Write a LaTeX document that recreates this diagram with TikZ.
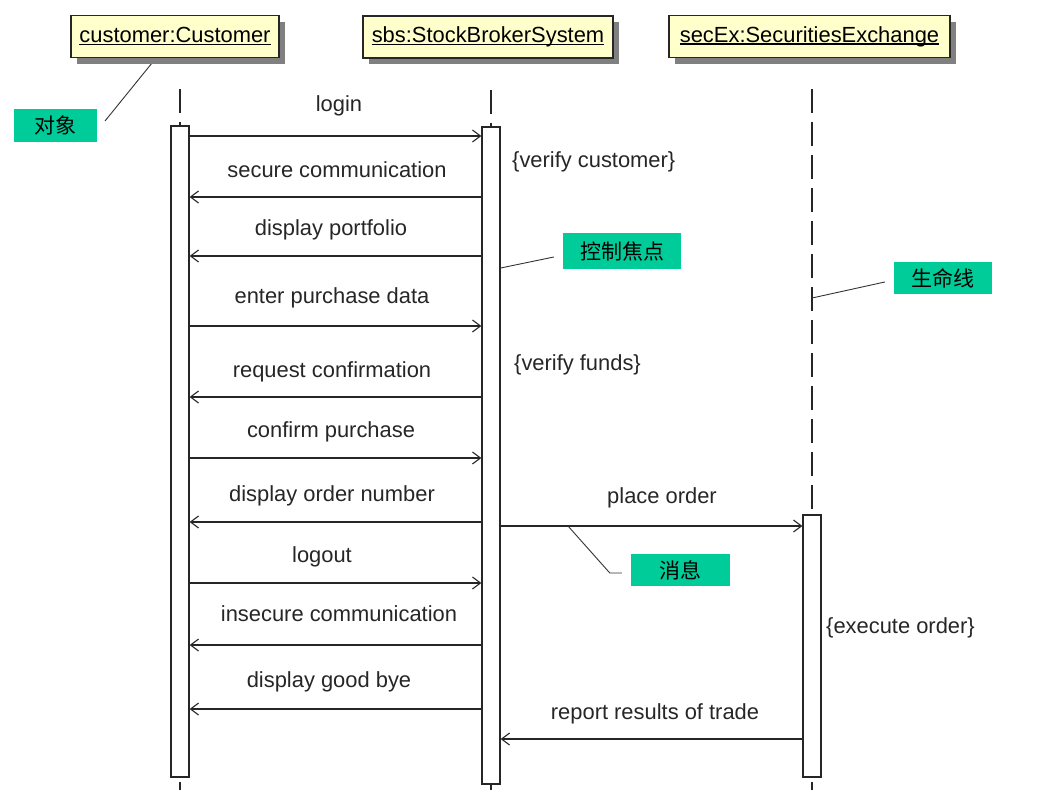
\documentclass[tikz,border=0pt]{standalone}
\usepackage{fontspec}
\setmainfont{Liberation Sans}
\newfontfamily\cjk{Noto Sans CJK SC}
\usetikzlibrary{arrows.meta,shadows}
\definecolor{objyellow}{RGB}{255,255,204}
\definecolor{notegreen}{RGB}{0,204,153}
% underline at a fixed depth, crossing descenders
\newcommand\uln[1]{\setbox0\hbox{#1}\rlap{\rule[-2.5pt]{\wd0}{1.3pt}}\box0}

\begin{document}
\begin{tikzpicture}[x=1pt, y=-1pt,
  obj/.style={draw=black!85, line width=1.4pt, fill=objyellow, minimum height=42pt, inner sep=0pt,
    drop shadow={shadow xshift=6pt, shadow yshift=-6pt, fill=black!50, opacity=1},
    font=\fontsize{21.9}{26}\selectfont},
  life/.style={line width=1.3pt, black!85, dash pattern=on 24pt off 9pt},
  act/.style={draw=black!85, line width=1.3pt, fill=white, minimum width=18pt, inner sep=0pt},
  msg/.style={line width=1.1pt, black!85, -{Straight Barb[length=8pt,width=12pt,line width=1.1pt]}},
  lbl/.style={font=\fontsize{21.9}{26}\selectfont, text=black!85, anchor=base, inner sep=0pt},
  cons/.style={lbl, anchor=base west},
  note/.style={fill=notegreen, inner sep=0pt, font=\cjk\fontsize{21}{24}\selectfont},
  pointer/.style={line width=0.9pt, black!80}
]

\useasboundingbox (0,0) rectangle (1038,790);

% === Pointers of the notes (under the boxes) ===
\coordinate (pObj) at (105,121);
\coordinate (pObjEnd) at (152,63);
\draw[pointer] (pObj) -- (pObjEnd);

% === Objects ===
\node[obj, minimum width=208pt] (OC) at (175,36.5) {\uln{customer:Customer}};
\node[obj, minimum width=250pt] (OS) at (488,37) {\uln{sbs:StockBrokerSystem}};
\node[obj, minimum width=281pt] (OX) at (809.5,36.5) {\uln{secEx:SecuritiesExchange}};

% === Lifelines ===
\draw[life] (OC.south -| 180,0) ++(0,31) -- (180,790);
\draw[life] (OS.south -| 491,0) ++(0,31) -- (491,790);
\draw[life] (OX.south -| 812,0) ++(0,31) -- (812,790);

% === Focus of control ===
\node[act, minimum height=651pt] (A) at (180,451.5) {};
\node[act, minimum height=657pt] (B) at (491,455.5) {};
\node[act, minimum height=262pt] (C) at (812,646) {};

% === Messages customer <-> sbs ===
\draw[msg] (A.east |- 0,136) -- (B.west |- 0,136);
\node[lbl] (m1) at (339,111) {login};
\draw[msg] (B.west |- 0,197) -- (A.east |- 0,197);
\node[lbl] (m2) at (337,177) {secure communication};
\draw[msg] (B.west |- 0,256) -- (A.east |- 0,256);
\node[lbl] (m3) at (331,235) {display portfolio};
\draw[msg] (A.east |- 0,326) -- (B.west |- 0,326);
\node[lbl] (m4) at (332,303) {enter purchase data};
\draw[msg] (B.west |- 0,397) -- (A.east |- 0,397);
\node[lbl] (m5) at (332,377) {request confirmation};
\draw[msg] (A.east |- 0,458) -- (B.west |- 0,458);
\node[lbl] (m6) at (331,437) {confirm purchase};
\draw[msg] (B.west |- 0,522) -- (A.east |- 0,522);
\node[lbl] (m7) at (332,501) {display order number};
\draw[msg] (A.east |- 0,583) -- (B.west |- 0,583);
\node[lbl] (m8) at (322,562) {logout};
\draw[msg] (B.west |- 0,645) -- (A.east |- 0,645);
\node[lbl] (m9) at (339,621) {insecure communication};
\draw[msg] (B.west |- 0,709) -- (A.east |- 0,709);
\node[lbl] (m10) at (329,687) {display good bye};

% === Messages sbs <-> secEx ===
\draw[msg] (B.east |- 0,526) -- (C.west |- 0,526);
\node[lbl] (m11) at (662,503) {place order};
\draw[msg] (C.west |- 0,739) -- (B.east |- 0,739);
\node[lbl] (m12) at (655,719) {report results of trade};

% === Constraints ===
\node[cons] (k1) at (512,167) {\{verify customer\}};
\node[cons] (k2) at (514,370) {\{verify funds\}};
\node[cons] (k3) at (826,633) {\{execute order\}};

% === Notes ===
\node[note, minimum width=83pt, minimum height=33pt] (nObj) at (55.5,125.5) {对象};
\node[note, minimum width=118pt, minimum height=36pt] (nFocus) at (622,251) {控制焦点};
\node[note, minimum width=98pt, minimum height=32pt] (nLife) at (943,278) {生命线};
\node[note, minimum width=99pt, minimum height=32pt] (nMsg) at (680.5,570) {消息};

\draw[pointer] ([xshift=-9pt,yshift=-6pt]nFocus.west) -- (B.east |- 0,268);
\draw[pointer] ([xshift=-9pt,yshift=-4pt]nLife.west) -- (C |- 0,298);
\draw[pointer] ([xshift=-9pt,yshift=-3pt]nMsg.west) -- ++(-12,0) -- (568,526);

\end{tikzpicture}
\end{document}
